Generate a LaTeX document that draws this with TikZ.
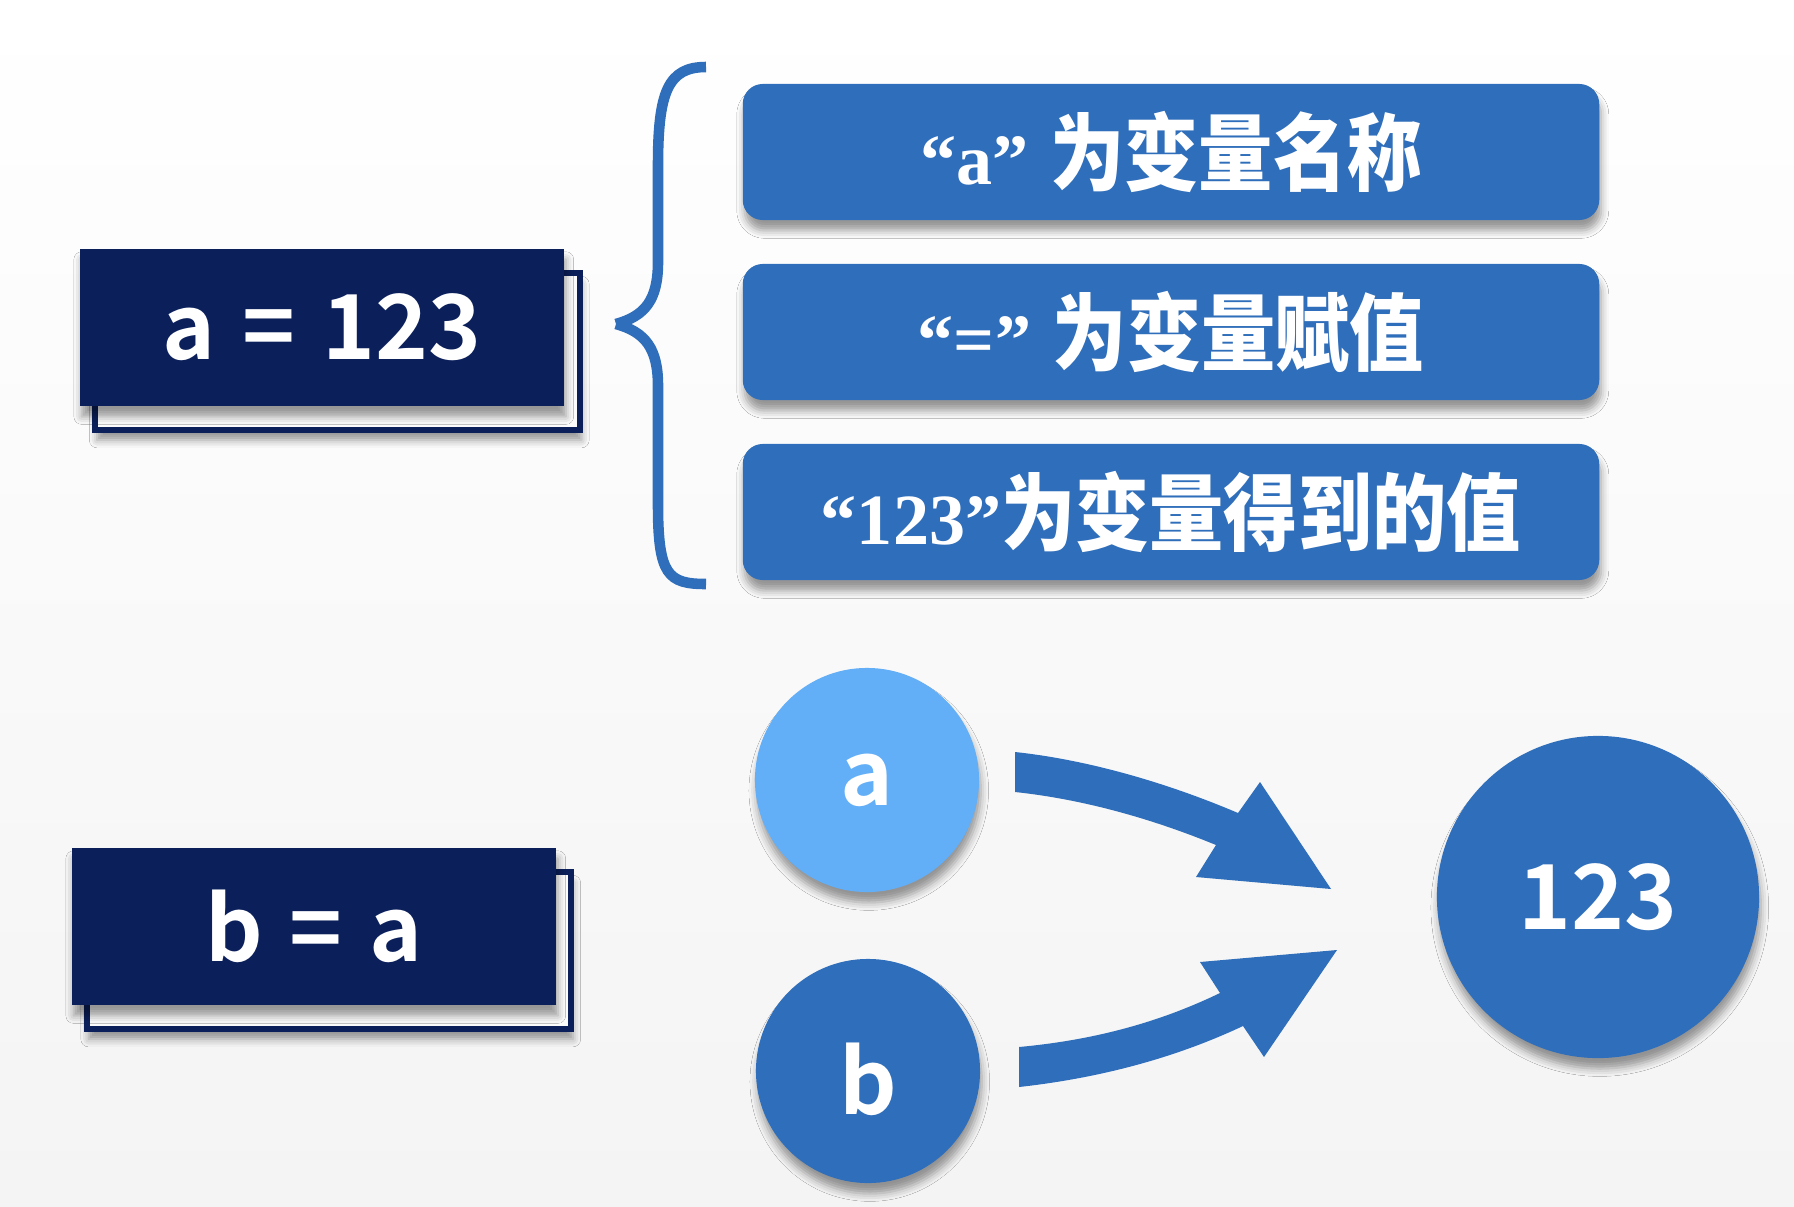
\documentclass[tikz,border=0pt]{standalone}
\usepackage{fontspec}
\usetikzlibrary{shadows.blur}
\newfontfamily\cjkblack[FakeStretch=0.88]{Noto Sans CJK SC Black}
\newfontfamily\latb{Noto Sans CJK SC Bold}
\newfontfamily\lserif{Liberation Serif}
\definecolor{navy}{RGB}{11,31,91}
\definecolor{mblue}{RGB}{47,110,186}
\definecolor{lblue}{RGB}{98,174,247}
\definecolor{bgtop}{RGB}{255,255,255}
\definecolor{bgbot}{RGB}{244,244,244}
\definecolor{bgmid}{RGB}{252,252,252}
\begin{document}
\begin{tikzpicture}[x=0.01cm,y=-0.01cm,
  shad/.style={blur shadow={shadow xshift=0.5pt, shadow yshift=-3pt, shadow blur radius=2.2pt, shadow opacity=40}},
  navybox/.style={fill=navy, draw=none, minimum width=4.84cm, minimum height=1.57cm, inner sep=0pt, text=white, shad,
    font=\latb\fontsize{25.5pt}{30pt}\selectfont},
  backbox/.style={draw=navy, line width=1.7pt, fill=bgmid, minimum width=4.84cm, minimum height=1.56cm, inner sep=0pt, shad},
  infobox/.style={fill=mblue, rounded corners=0.2cm, minimum width=8.56cm, minimum height=1.36cm, inner sep=0pt, text=white, shad},
  ball/.style={circle, inner sep=0pt, text=white, shad, font=\latb\fontsize{25.5pt}{30pt}\selectfont},
  bracestroke/.style={mblue, line width=3pt, line cap=butt},
]
\shade[top color=bgtop, bottom color=bgbot] (0,0) rectangle (1794,1206);
\useasboundingbox (0,0) rectangle (1794,1206);

% first assignment box
\node[backbox] (eqoneback) at (337.5,351.5) {};
\node[navybox] (eqone) at (322,327.5) {a\hspace{0.3em}=\hspace{0.3em}123};

% second assignment box
\node[backbox] (eqtwoback) at (329,950.5) {};
\node[navybox] (eqtwo) at (314,926.5) {b\hspace{0.3em}=\hspace{0.3em}a};

% brace
\coordinate (btip) at (616,324);
\draw[bracestroke]
  (706,67) .. controls (668,67) and (658,92) .. (658,165) -- (658,262)
  .. controls (658,300) and (645,316) .. (btip);
\draw[bracestroke]
  (btip) .. controls (645,332) and (658,348) .. (658,386) -- (658,505)
  .. controls (658,575) and (668,584) .. (706,584);

% explanation boxes
\node[infobox] (name) at (1171,152)
  {{\lserif\bfseries\fontsize{20.5pt}{24pt}\selectfont “a”\hspace{0.3em}}{\cjkblack\fontsize{24pt}{28pt}\selectfont 为变量名称}};
\node[infobox] (assign) at (1171,332)
  {{\lserif\bfseries\fontsize{20.5pt}{24pt}\selectfont “=”\hspace{0.3em}}{\cjkblack\fontsize{24pt}{28pt}\selectfont 为变量赋值}};
\node[infobox] (value) at (1171,512)
  {{\lserif\bfseries\fontsize{20.5pt}{24pt}\selectfont “123”}{\cjkblack\fontsize{24pt}{28pt}\selectfont 为变量得到的值}};

% circles
\node[ball, fill=lblue, minimum size=2.24cm] (ca) at (867,780) {a};
\node[ball, fill=mblue, minimum size=2.24cm] (cb) at (868,1071) {\raisebox{-2.3pt}[\height][0pt]{b}};
\node[ball, fill=mblue, minimum size=3.22cm] (cv) at (1598,897) {123};

% block arrows
\fill[mblue] (1015,752) .. controls (1090,760) and (1170,784) .. (1238,813)
  -- (1260,782) -- (1331,889) -- (1196,877) -- (1216,845)
  .. controls (1160,822) and (1090,800) .. (1015,792) -- cycle;
\fill[mblue] (1019,1047) .. controls (1095,1040) and (1160,1022) .. (1220,993)
  -- (1200,962) -- (1337,950) -- (1264,1057) -- (1243,1026)
  .. controls (1175,1058) and (1100,1078) .. (1019,1087) -- cycle;
\end{tikzpicture}
\end{document}
